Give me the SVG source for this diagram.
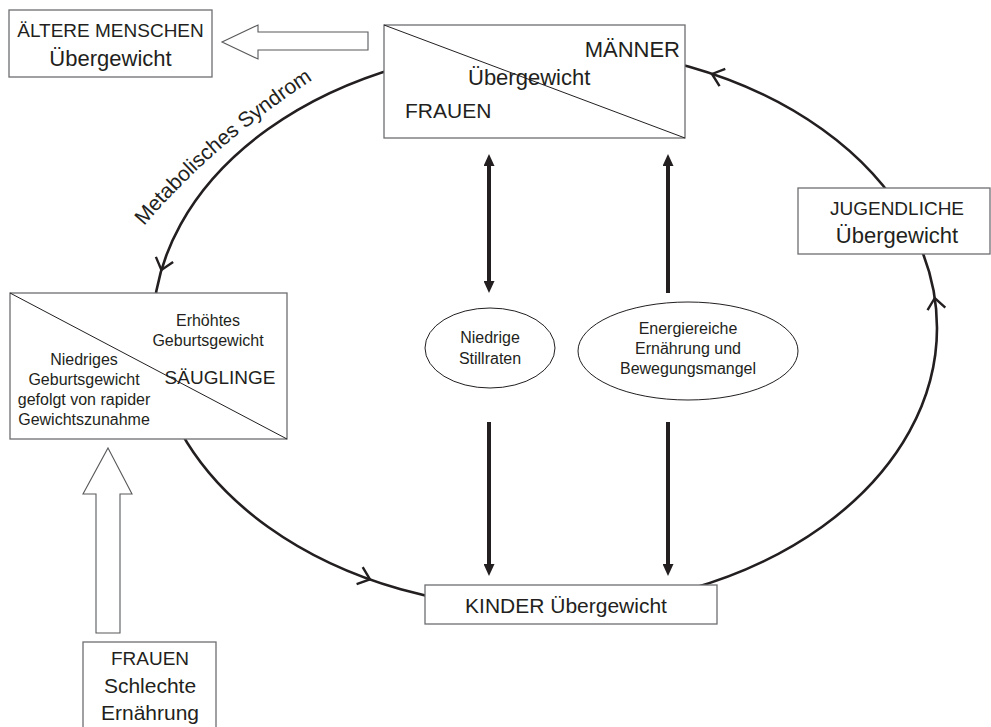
<svg xmlns="http://www.w3.org/2000/svg" width="991" height="727" viewBox="0 0 991 727">
<style>
text{font-family:"Liberation Sans",Arial,sans-serif;fill:#231f20}
.box{fill:#fff;stroke:#6d6e70;stroke-width:1.3}
.diag{stroke:#231f20;stroke-width:1;fill:none}
.ell{fill:#fff;stroke:#231f20;stroke-width:1}
.hollow{fill:#fff;stroke:#58595b;stroke-width:1.1}
.cycle{fill:none;stroke:#231f20;stroke-width:2.6}
.chev{fill:none;stroke:#231f20;stroke-width:2.4;stroke-linejoin:miter}
.bar{stroke:#231f20;stroke-width:4;fill:none}
.s16{font-size:16px}
</style>
<defs>
<marker id="head" markerUnits="userSpaceOnUse" markerWidth="12" markerHeight="11" refX="4" refY="5.5" orient="auto-start-reverse" viewBox="0 0 12 11">
<path d="M0,0 L12,5.5 L0,11 Z" fill="#231f20"/>
</marker>
<path id="metaPath" d="M 144 226 Q 222 134 344 60"/>
</defs>

<g id="connectors">
<ellipse class="cycle" cx="545" cy="328" rx="392" ry="281"/>
<path class="chev" transform="translate(712,74) rotate(198.6)" d="M-11,-9 L0,0 L-11,9"/>
<path class="chev" transform="translate(161.4,270) rotate(106.4)" d="M-11,-9 L0,0 L-11,9"/>
<path class="chev" transform="translate(370,579.4) rotate(19.7)" d="M-11,-9 L0,0 L-11,9"/>
<path class="chev" transform="translate(934.8,298) rotate(261.5)" d="M-11,-9 L0,0 L-11,9"/>
<text style="font-size:21px"><textPath href="#metaPath">Metabolisches Syndrom</textPath></text>
<line class="bar" x1="489" y1="162" x2="489" y2="285" marker-start="url(#head)" marker-end="url(#head)"/>
<line class="bar" x1="668" y1="162" x2="668" y2="293" marker-start="url(#head)"/>
<line class="bar" x1="489" y1="422" x2="489" y2="568" marker-end="url(#head)"/>
<line class="bar" x1="668" y1="422" x2="668" y2="568" marker-end="url(#head)"/>
<polygon class="hollow" points="222,42 258,25 258,32 368,32 368,50 258,50 258,59"/>
<polygon class="hollow" points="108,448 132,494 120,494 120,633 96,633 96,494 83,494"/>
</g>

<g id="aeltere">
<rect class="box" x="9" y="10" width="203" height="67"/>
<text x="110.5" y="37" text-anchor="middle" style="font-size:19px">ÄLTERE MENSCHEN</text>
<text x="110.5" y="66" text-anchor="middle" style="font-size:22px">Übergewicht</text>
</g>

<g id="erwachsene">
<rect class="box" x="384" y="25" width="301" height="113"/>
<line class="diag" x1="384" y1="25" x2="685" y2="138"/>
<text x="680" y="57" text-anchor="end" style="font-size:22px">MÄNNER</text>
<text x="468" y="85" style="font-size:22px">Übergewicht</text>
<text x="405" y="118" style="font-size:21px">FRAUEN</text>
</g>

<g id="jugendliche">
<rect class="box" x="798" y="188" width="192" height="66"/>
<text x="897" y="215" text-anchor="middle" style="font-size:19px">JUGENDLICHE</text>
<text x="897" y="243" text-anchor="middle" style="font-size:22px">Übergewicht</text>
</g>

<g id="saeuglinge">
<rect class="box" x="10" y="293" width="277" height="146"/>
<line class="diag" x1="10" y1="293" x2="287" y2="439"/>
<text class="s16" x="208" y="326" text-anchor="middle">Erhöhtes</text>
<text class="s16" x="208" y="346" text-anchor="middle">Geburtsgewicht</text>
<text x="220" y="384" text-anchor="middle" style="font-size:19px">SÄUGLINGE</text>
<text class="s16" x="84" y="365" text-anchor="middle">Niedriges</text>
<text class="s16" x="84" y="385" text-anchor="middle">Geburtsgewicht</text>
<text class="s16" x="84" y="405" text-anchor="middle">gefolgt von rapider</text>
<text class="s16" x="84" y="425" text-anchor="middle">Gewichtszunahme</text>
</g>

<g id="stillraten">
<ellipse class="ell" cx="490" cy="348" rx="65" ry="40"/>
<text class="s16" x="490" y="343" text-anchor="middle">Niedrige</text>
<text class="s16" x="490" y="364" text-anchor="middle">Stillraten</text>
</g>

<g id="ernaehrung">
<ellipse class="ell" cx="688" cy="351" rx="110" ry="49"/>
<text class="s16" x="688" y="334" text-anchor="middle">Energiereiche</text>
<text class="s16" x="688" y="354" text-anchor="middle">Ernährung und</text>
<text class="s16" x="688" y="374" text-anchor="middle">Bewegungsmangel</text>
</g>

<g id="kinder">
<rect class="box" x="425" y="585" width="292" height="39"/>
<text x="566" y="613" text-anchor="middle" style="font-size:21px">KINDER Übergewicht</text>
</g>

<g id="frauen">
<rect class="box" x="83" y="642" width="133" height="100"/>
<text x="150" y="665" text-anchor="middle" style="font-size:19px">FRAUEN</text>
<text x="150" y="693" text-anchor="middle" style="font-size:21px">Schlechte</text>
<text x="150" y="720" text-anchor="middle" style="font-size:21px">Ernährung</text>
</g>
</svg>
